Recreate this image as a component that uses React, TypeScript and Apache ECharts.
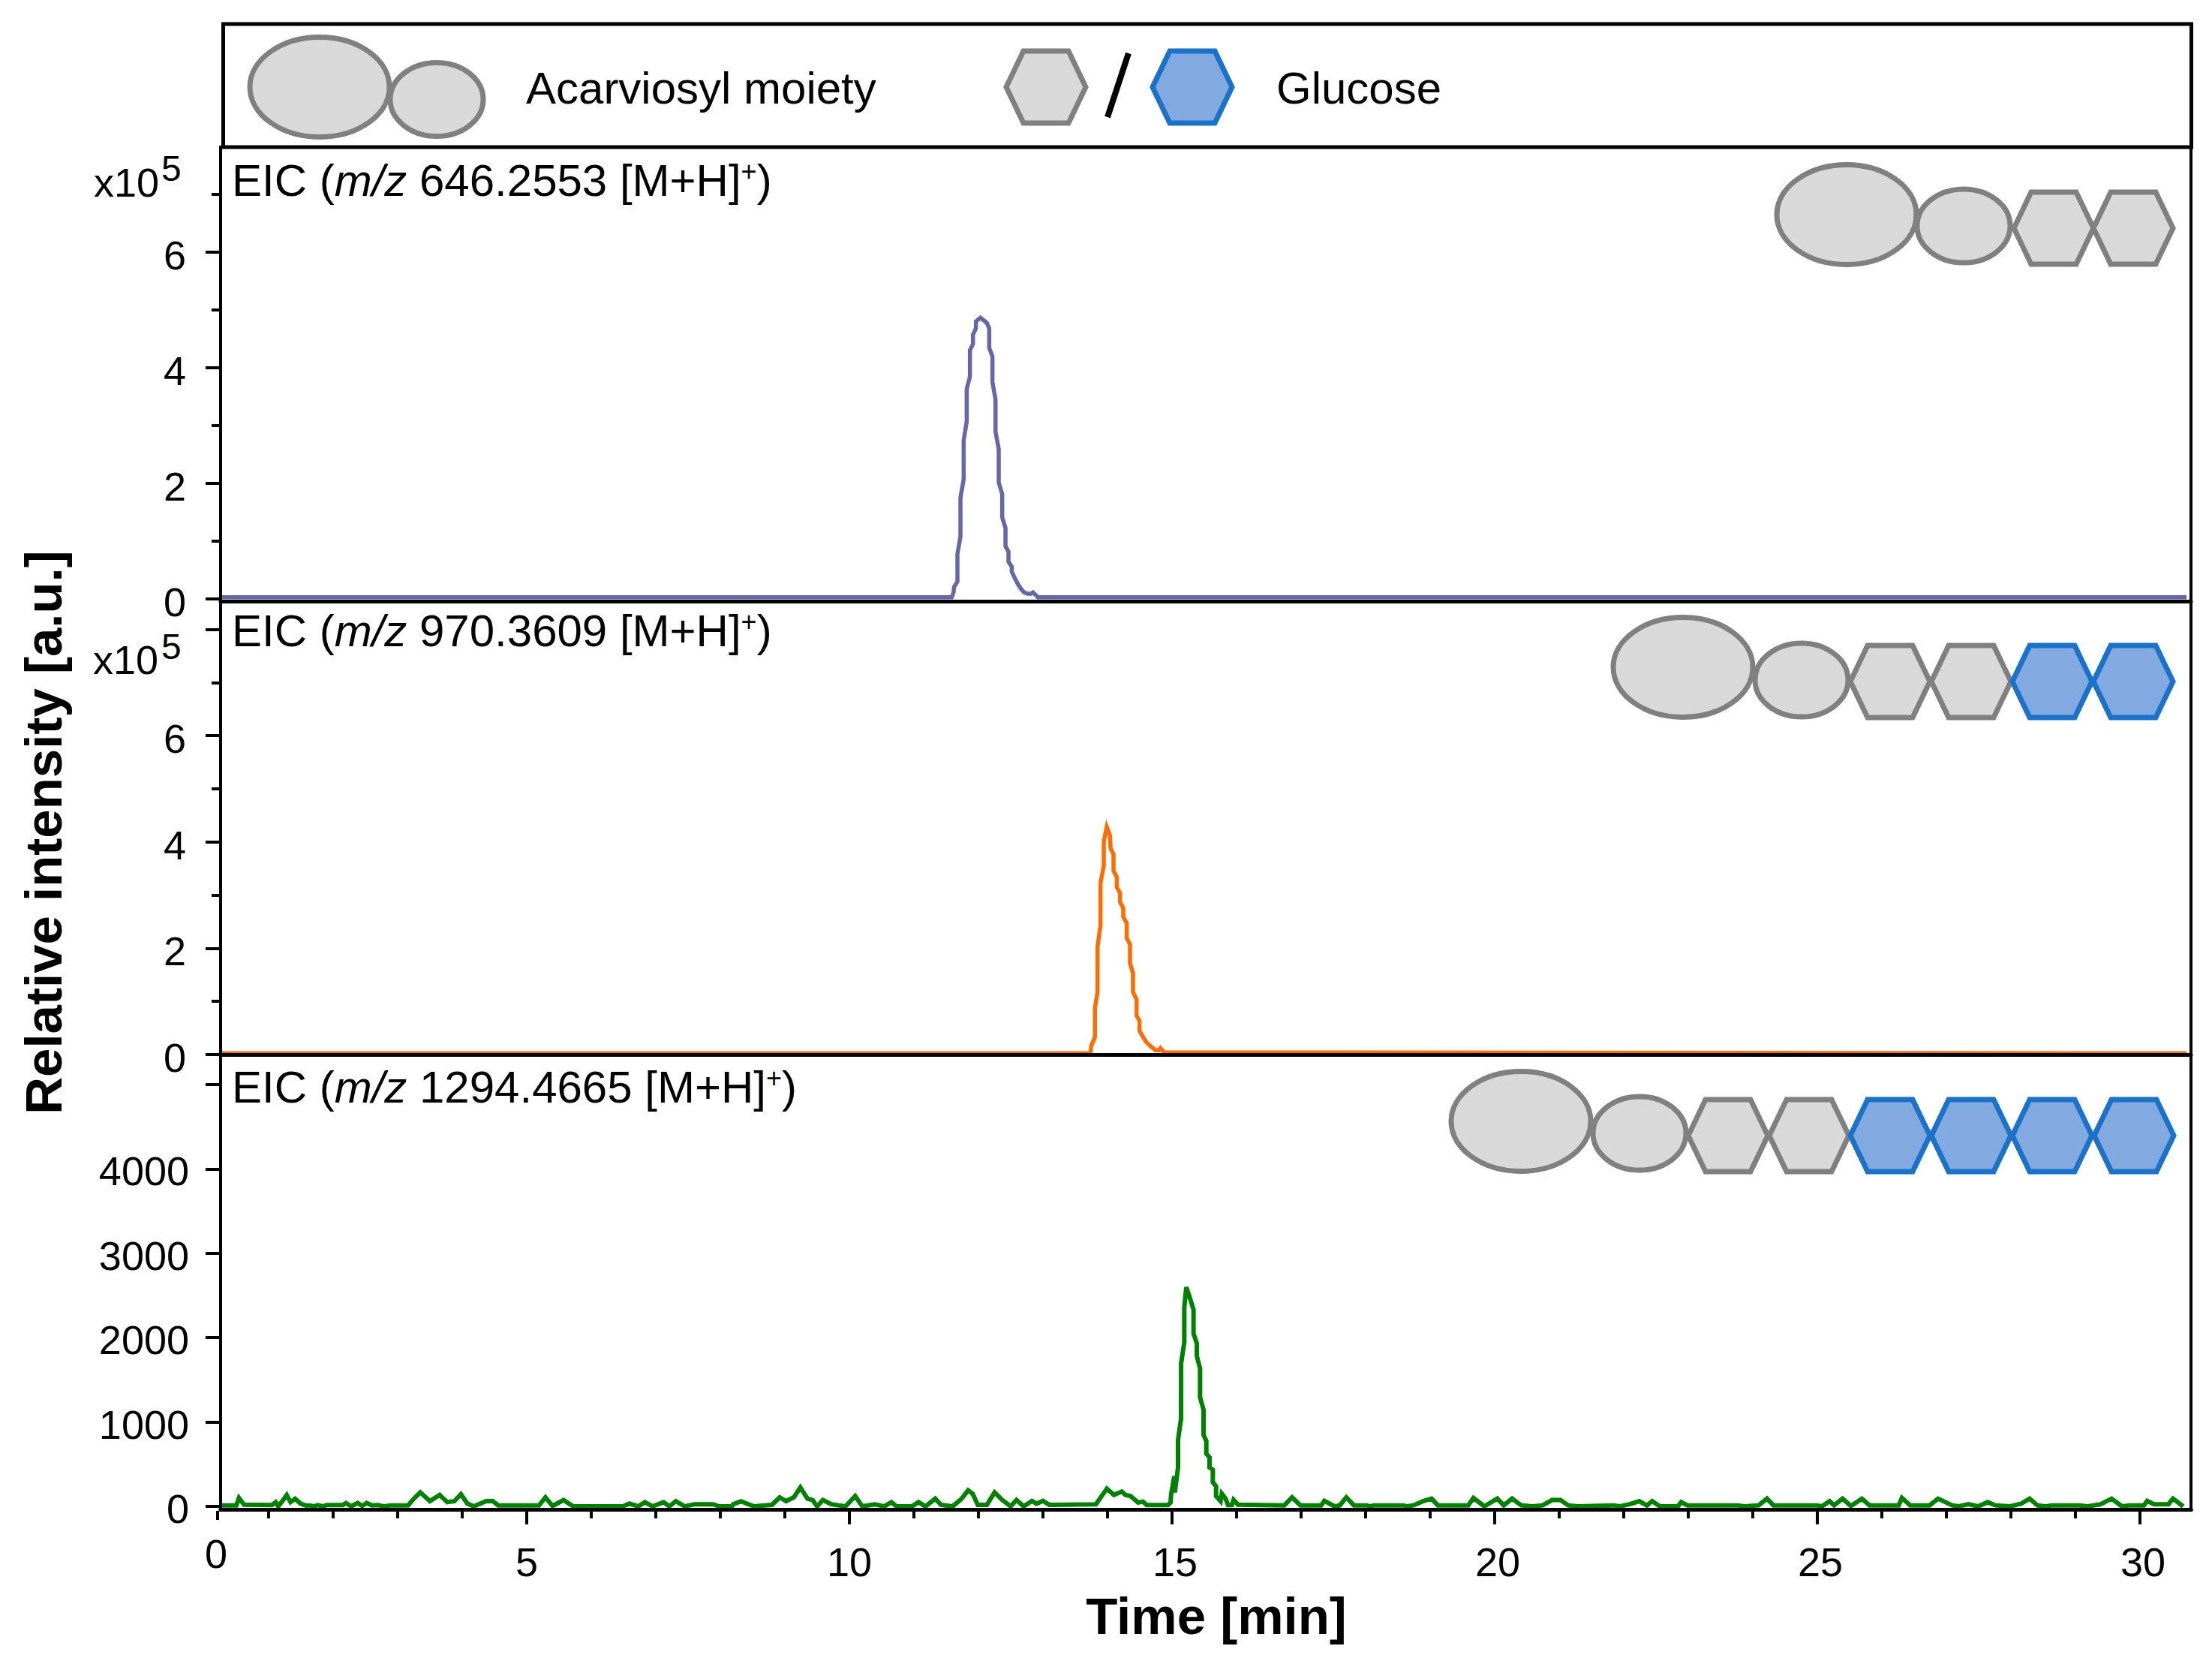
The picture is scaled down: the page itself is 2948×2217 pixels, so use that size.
import React, { useEffect, useRef } from "react";
import * as echarts from "echarts";

const FONT = "Liberation Sans";

// Panel 1: m/z 646.2553, intensity in units of 10^5
const times1 = [0.26, 11.585, 11.612, 11.624, 11.674, 11.674, 11.721, 11.721, 11.771, 11.771, 11.818, 11.818, 11.868, 11.868, 11.915, 11.915, 11.961, 11.961, 12.031, 12.128, 12.167, 12.167, 12.217, 12.217, 12.264, 12.264, 12.314, 12.314, 12.368, 12.368, 12.419, 12.419, 12.465, 12.465, 12.516, 12.516, 12.562, 12.612, 12.663, 12.709, 12.76, 12.814, 12.845, 12.903, 12.922, 30.72];
const values1 = [0.03, 0.03, 0.104, 0.212, 0.299, 0.775, 1.078, 1.749, 2.074, 2.745, 3.069, 3.632, 3.848, 4.303, 4.411, 4.571, 4.684, 4.801, 4.866, 4.779, 4.684, 4.346, 4.195, 3.749, 3.459, 2.896, 2.593, 2.017, 1.814, 1.411, 1.229, 0.913, 0.818, 0.645, 0.558, 0.472, 0.364, 0.255, 0.169, 0.113, 0.091, 0.091, 0.113, 0.052, 0.03, 0.03];

// Panel 2: m/z 970.3609, intensity in units of 10^5
const times2 = [0.26, 13.736, 13.748, 13.806, 13.806, 13.845, 13.845, 13.891, 13.891, 13.942, 13.942, 13.988, 14.039, 14.047, 14.093, 14.093, 14.143, 14.143, 14.194, 14.194, 14.244, 14.244, 14.298, 14.298, 14.349, 14.349, 14.395, 14.395, 14.45, 14.45, 14.496, 14.496, 14.55, 14.601, 14.651, 14.706, 14.744, 14.802, 14.822, 14.88, 30.72];
const values2 = [0.025, 0.025, 0.165, 0.33, 0.871, 1.177, 2.024, 2.425, 3.225, 3.555, 4.002, 4.284, 4.12, 3.884, 3.767, 3.46, 3.343, 3.154, 3.037, 2.872, 2.754, 2.589, 2.472, 2.189, 2.072, 1.718, 1.53, 1.177, 1.036, 0.73, 0.636, 0.447, 0.33, 0.235, 0.174, 0.118, 0.08, 0.08, 0.118, 0.04, 0.025];

// Panel 3: m/z 1294.4665, absolute intensity
const times3 = [0.26, 0.5, 0.54, 0.62, 1.05, 1.11, 1.15, 1.22, 1.28, 1.34, 1.41, 1.5, 1.58, 1.63, 1.7, 1.76, 1.84, 1.9, 2.15, 2.2, 2.28, 2.38, 2.45, 2.52, 2.6, 2.7, 2.78, 2.9, 3.05, 3.16, 3.25, 3.35, 3.5, 3.65, 3.77, 3.88, 3.98, 4.08, 4.18, 4.37, 4.47, 4.56, 5.19, 5.29, 5.4, 5.57, 5.72, 6.49, 6.59, 6.73, 6.83, 6.95, 7.12, 7.21, 7.31, 7.45, 7.6, 7.89, 7.98, 8.18, 8.2, 8.32, 8.52, 8.8, 8.92, 9.02, 9.14, 9.24, 9.35, 9.43, 9.5, 9.59, 9.72, 9.94, 10.09, 10.2, 10.39, 10.54, 10.65, 10.73, 10.97, 11.07, 11.18, 11.33, 11.42, 11.6, 11.74, 11.84, 11.91, 11.99, 12.13, 12.25, 12.37, 12.5, 12.59, 12.7, 12.83, 12.9, 13, 13.1, 13.82, 13.99, 14.1, 14.22, 14.279, 14.357, 14.473, 14.55, 14.609, 14.938, 14.977, 14.985, 15.035, 15.043, 15.093, 15.093, 15.14, 15.14, 15.19, 15.19, 15.221, 15.279, 15.333, 15.333, 15.384, 15.384, 15.434, 15.434, 15.488, 15.488, 15.531, 15.531, 15.581, 15.581, 15.632, 15.632, 15.682, 15.682, 15.752, 15.771, 15.83, 15.868, 15.927, 15.953, 16.023, 16.74, 16.86, 16.99, 17.31, 17.36, 17.52, 17.6, 17.7, 17.82, 18.02, 18.06, 18.14, 18.59, 18.64, 18.74, 18.89, 19.02, 19.12, 19.59, 19.67, 19.84, 20.04, 20.14, 20.27, 20.41, 20.59, 20.74, 20.89, 21.02, 21.14, 21.29, 21.84, 21.94, 22.09, 22.24, 22.36, 22.44, 22.56, 22.84, 22.89, 22.99, 23.76, 23.87, 24.09, 24.22, 24.32, 24.99, 25.07, 25.19, 25.26, 25.39, 25.52, 25.69, 25.81, 26.26, 26.31, 26.44, 26.74, 26.87, 27.09, 27.19, 27.34, 27.49, 27.64, 27.76, 27.99, 28.16, 28.29, 28.41, 28.54, 28.64, 29.06, 29.19, 29.39, 29.56, 29.72, 29.84, 30.06, 30.11, 30.22, 30.44, 30.51, 30.67];
const values3 = [12, 12, 100, 20, 15, 50, 0, 70, 135, 50, 90, 30, 10, 12, 0, 15, 0, 15, 15, 40, 0, 40, 5, 40, 12, 15, 0, 12, 12, 12, 90, 166, 62, 136, 50, 62, 145, 33, 0, 62, 65, 12, 12, 107, 5, 75, 0, 0, 33, 0, 50, 0, 50, 0, 62, 0, 25, 25, 0, 0, 25, 60, 0, 18, 107, 62, 107, 225, 92, 75, 0, 75, 25, 0, 122, 0, 25, 0, 50, 0, 0, 50, 0, 92, 18, 0, 92, 190, 150, 18, 18, 166, 75, 0, 75, 0, 65, 33, 65, 18, 25, 210, 136, 175, 136, 122, 47, 56, 15, 15, 47, 136, 359, 166, 463, 789, 1041, 1693, 1945, 2361, 2598, 2464, 2331, 2049, 1931, 1782, 1634, 1293, 1145, 848, 774, 626, 581, 463, 433, 285, 240, 122, 62, 151, 92, 15, 15, 77, 20, 12, 107, 12, 12, 65, 0, 12, 107, 12, 12, 0, 12, 12, 0, 12, 62, 92, 12, 12, 100, 0, 92, 12, 92, 12, 0, 12, 75, 75, 12, 0, 12, 0, 25, 62, 10, 62, 0, 0, 50, 12, 12, 0, 12, 92, 12, 12, 0, 62, 12, 92, 5, 92, 12, 12, 100, 12, 12, 92, 12, 0, 25, 0, 50, 12, 0, 33, 92, 12, 0, 12, 12, 0, 25, 92, 0, 12, 12, 65, 25, 25, 92, 0];

const xMajorTicks = [5, 10, 15, 20, 25, 30];
const xMinorTicks = [1, 2, 3, 4, 6, 7, 8, 9, 11, 12, 13, 14, 16, 17, 18, 19, 21, 22, 23, 24, 26, 27, 28, 29];
const yMajor1 = [0, 2, 4, 6];
const yMinor1 = [1, 3, 5, 7];
const yMajor2 = [0, 2, 4, 6, 8];
const yLabels2 = [0, 2, 4, 6];
const yMinor2 = [1, 3, 5, 7];
const yMajor3 = [0, 1000, 2000, 3000, 4000, 5000];
const yLabels3 = [0, 1000, 2000, 3000, 4000];

const eic1 = "646.2553";
const eic2 = "970.3609";
const eic3 = "1294.4665";

const GRAY_STROKE = "#808080";
const GRAY_FILL = "#D9D9D9";
const BLUE_STROKE = "#1B72C8";
const BLUE_FILL = "#82AAE0";

const ellipse = (cx: number, cy: number, rx: number, ry: number) => ({
  type: "ellipse",
  shape: { cx, cy, rx, ry },
  style: { fill: GRAY_FILL, stroke: GRAY_STROKE, lineWidth: 7 },
  z: 20,
});

const hexagon = (cx: number, cy: number, blue: boolean) => ({
  type: "polygon",
  shape: {
    points: [
      [cx - 53, cy],
      [cx - 30, cy - 48],
      [cx + 30, cy - 48],
      [cx + 53, cy],
      [cx + 30, cy + 48],
      [cx - 30, cy + 48],
    ],
  },
  style: {
    fill: blue ? BLUE_FILL : GRAY_FILL,
    stroke: blue ? BLUE_STROKE : GRAY_STROKE,
    lineWidth: 7,
  },
  z: 21,
});

const glyphRow = (largeX: number, smallX: number, largeY: number, smallY: number, hexY: number, hexes: [number, boolean][]) => [
  ellipse(largeX, largeY, 93, 66.5),
  ellipse(smallX, smallY, 62, 49),
  ...hexes.map(([x, b]) => hexagon(x, hexY, b)),
];

const label = (x: number, y: number, text: string, fontSize: number, extra: any = {}) => ({
  type: "text",
  x,
  y,
  z: 30,
  style: { text, fontFamily: FONT, fontSize, fill: "#000", verticalAlign: "middle", align: "left", ...extra },
});

const eicLabel = (y: number, mz: string) => ({
  type: "text",
  x: 309,
  y,
  z: 30,
  style: {
    text: `{a|EIC (}{i|m/z}{a| ${mz} [M+H]}{s|+}{a|)}`,
    fontFamily: FONT,
    verticalAlign: "middle",
    align: "left",
    rich: {
      a: { fontFamily: FONT, fontSize: 60, fill: "#000" },
      i: { fontFamily: FONT, fontSize: 60, fontStyle: "italic", fill: "#000" },
      s: { fontFamily: FONT, fontSize: 36, fill: "#000", verticalAlign: "top" },
    },
  },
});

const baseYAxis = (gridIndex: number, min: number, max: number) => ({
  type: "value",
  gridIndex,
  position: "left",
  min,
  max,
  z: 6,
  splitLine: { show: false },
  axisLine: { show: true, onZero: false, lineStyle: { color: "#000", width: 4 } },
});

const majorY = (gridIndex: number, min: number, max: number, ticks: number[], labels: number[], margin: number, shift: number) => ({
  ...baseYAxis(gridIndex, min, max),
  axisTick: { show: true, length: 20, customValues: ticks, lineStyle: { color: "#000", width: 4 } },
  axisLabel: {
    show: true,
    customValues: labels,
    margin,
    showMinLabel: true,
    formatter: (v: number) => `{t|${v}}`,
    rich: { t: { fontFamily: FONT, fontSize: 54, color: "#000", padding: [shift, 0, 0, 0] } },
  },
});

const minorY = (gridIndex: number, min: number, max: number, ticks: number[]) => ({
  ...baseYAxis(gridIndex, min, max),
  axisTick: { show: true, length: 12, customValues: ticks, lineStyle: { color: "#000", width: 4 } },
  axisLabel: { show: false },
});

const X_MIN = 0.256;
const X_MAX = 30.79;

const plainX = (gridIndex: number) => ({
  type: "value",
  gridIndex,
  position: "bottom",
  min: X_MIN,
  max: X_MAX,
  z: 6,
  splitLine: { show: false },
  axisLine: { show: true, onZero: false, lineStyle: { color: "#000", width: 5 } },
  axisTick: { show: false },
  axisLabel: { show: false },
});

const series = (index: number, times: number[], values: number[], color: string, width: number) => ({
  type: "line",
  xAxisIndex: index,
  yAxisIndex: index,
  z: 2,
  showSymbol: false,
  symbol: "none",
  silent: true,
  lineStyle: { color, width, join: "miter" },
  data: times.map((t, i) => [t, values[i]]),
});

const buildOption = () => ({
  animation: false,
  backgroundColor: "#fff",
  textStyle: { fontFamily: FONT },
  grid: [
    { left: 294, width: 2626, top: 196, height: 605, show: true, borderColor: "#000", borderWidth: 4, backgroundColor: "transparent" },
    { left: 294, width: 2626, top: 801, height: 604, show: true, borderColor: "#000", borderWidth: 4, backgroundColor: "transparent" },
    { left: 294, width: 2626, top: 1405, height: 606, show: true, borderColor: "#000", borderWidth: 4, backgroundColor: "transparent" },
  ],
  xAxis: [
    plainX(0),
    plainX(1),
    {
      ...plainX(2),
      axisTick: { show: true, length: 20, customValues: xMajorTicks, lineStyle: { color: "#000", width: 4 } },
      axisLabel: {
        show: true,
        customValues: xMajorTicks,
        margin: 43,
        formatter: (v: number) => (v >= 15 ? `{r|${v}}` : `{l|${v}}`),
        rich: {
          l: { fontFamily: FONT, fontSize: 54, color: "#000" },
          r: { fontFamily: FONT, fontSize: 54, color: "#000", padding: [0, 0, 0, 8] },
        },
      },
    },
    {
      ...plainX(2),
      axisTick: { show: true, length: 12, customValues: xMinorTicks, lineStyle: { color: "#000", width: 4 } },
    },
  ],
  yAxis: [
    majorY(0, -0.039, 7.818, yMajor1, yMajor1, 46, 8),
    majorY(1, 0, 8.531, yMajor2, yLabels2, 46, 8),
    majorY(2, -35.6, 5356, yMajor3, yLabels3, 42, 6),
    minorY(0, -0.039, 7.818, yMinor1),
    minorY(1, 0, 8.531, yMinor2),
  ],
  series: [
    series(0, times1, values1, "#6667A6", 5.5),
    series(1, times2, values2, "#FF6C00", 5.5),
    series(2, times3, values3, "#008000", 6),
  ],
  graphic: [
    {
      type: "rect",
      z: 10,
      shape: { x: 297.5, y: 32, width: 2623, height: 164 },
      style: { fill: "transparent", stroke: "#000", lineWidth: 5 },
    },
    ...glyphRow(426, 582, 116, 132.5, 0, []),
    hexagon(1394, 116, false),
    hexagon(1589, 116, true),
    { type: "line", z: 20, shape: { x1: 1476, y1: 156, x2: 1504, y2: 71 }, style: { stroke: "#000", lineWidth: 8 } },
    label(701, 117, "Acarviosyl moiety", 60),
    label(1701, 117, "Glucose", 60),

    eicLabel(240, eic1),
    eicLabel(840, eic2),
    eicLabel(1448, eic3),

    label(125, 243, "x10", 54),
    label(215, 224, "5", 48),
    label(124, 879, "x10", 54),
    label(215, 861, "5", 48),

    ...glyphRow(2461, 2617, 286, 301, 304, [[2737, false], [2843, false]]),
    ...glyphRow(2243, 2401, 889, 906, 908, [[2519, false], [2627, false], [2735, true], [2843, true]]),
    ...glyphRow(2027, 2185, 1494, 1510, 1513, [[2303, false], [2411, false], [2519, true], [2627, true], [2735, true], [2844, true]]),

    { type: "line", z: 10, shape: { x1: 290, y1: 2013, x2: 290, y2: 2025 }, style: { stroke: "#000", lineWidth: 4 } },
    label(288, 2070, "0", 54, { align: "center" }),

    {
      type: "text",
      z: 30,
      x: 58,
      y: 1109,
      rotation: Math.PI / 2,
      style: { text: "Relative intensity [a.u.]", fontFamily: FONT, fontSize: 69, fontWeight: "bold", fill: "#000", align: "center", verticalAlign: "middle" },
    },
    {
      type: "text",
      z: 30,
      x: 1621,
      y: 2153,
      style: { text: "Time [min]", fontFamily: FONT, fontSize: 69, fontWeight: "bold", fill: "#000", align: "center", verticalAlign: "middle" },
    },
  ],
});

export default function App() {
  const ref = useRef<HTMLDivElement>(null);
  useEffect(() => {
    document.body.style.margin = "0";
    const chart = echarts.init(ref.current!, undefined, { renderer: "svg" });
    chart.setOption(buildOption() as any);
    return () => chart.dispose();
  }, []);
  return <div ref={ref} style={{ width: 2948, height: 2217, background: "#fff" }} />;
}
